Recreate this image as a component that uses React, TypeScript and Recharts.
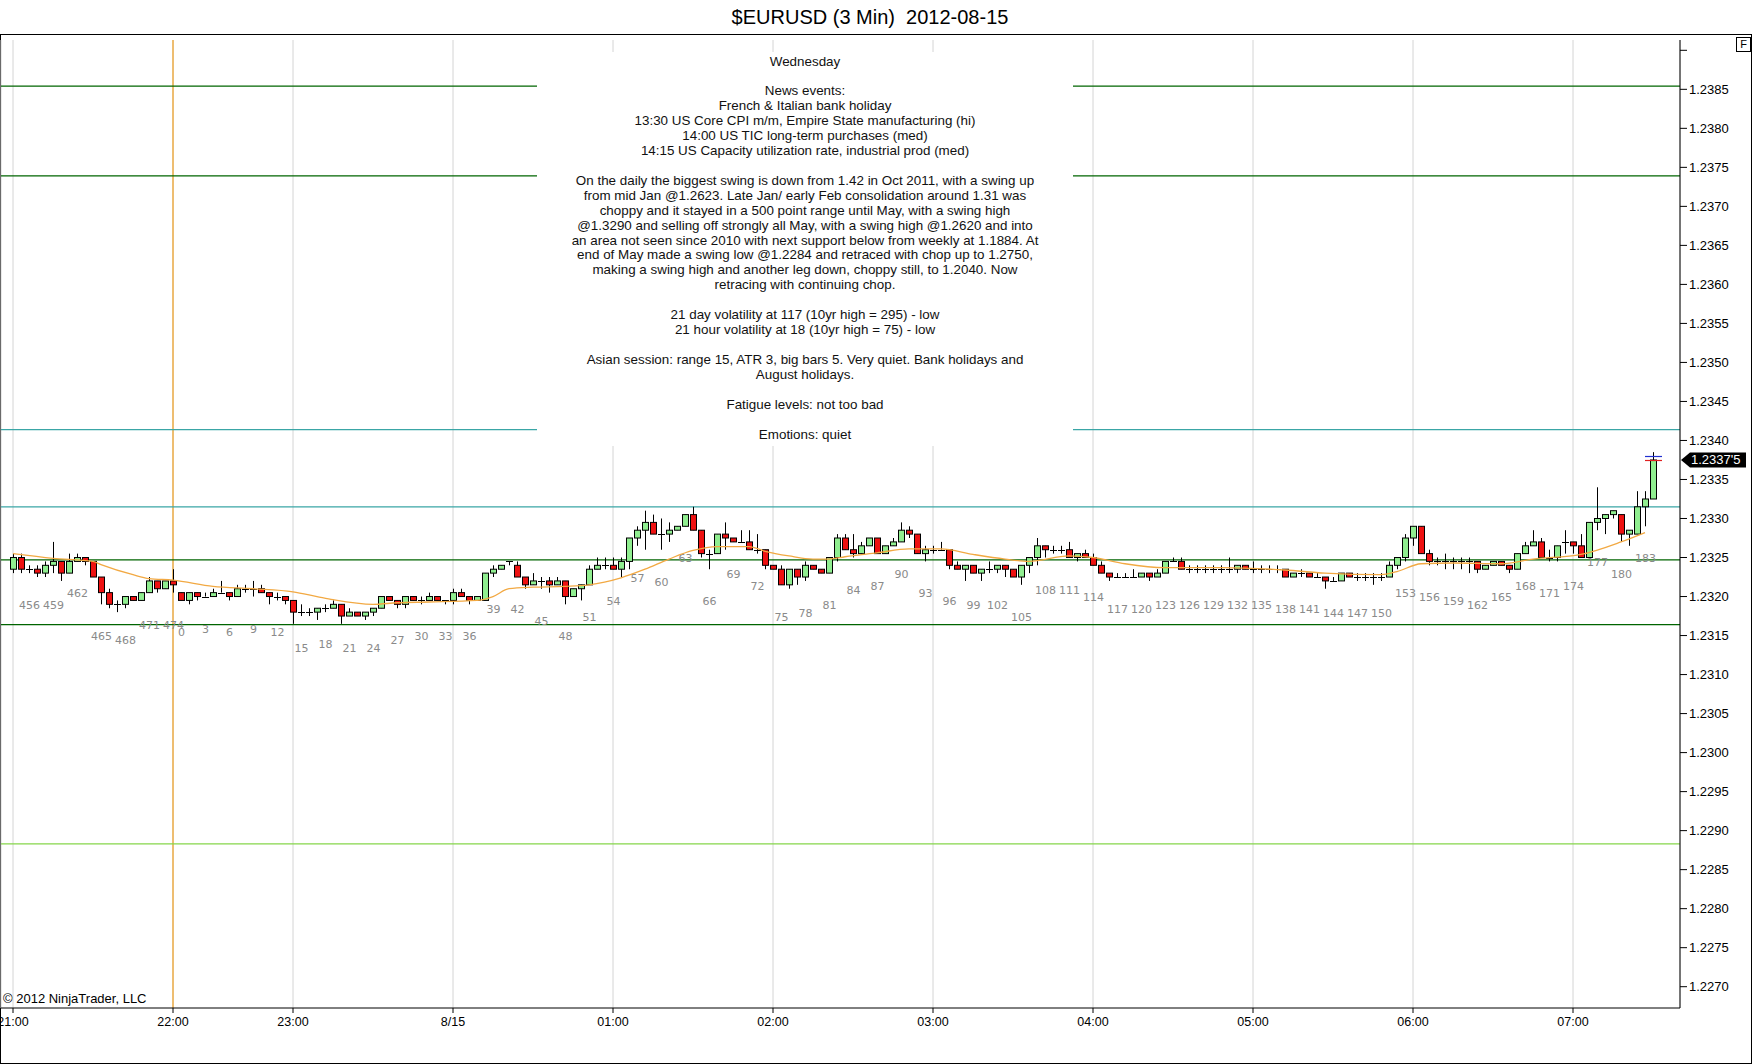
import { ComposedChart, Bar, Line, XAxis, YAxis, CartesianGrid, ReferenceLine, ReferenceArea, ReferenceDot } from 'recharts';

// candle values are pips above 1.2300, one entry per 3-minute bar
const BASE = 1.23;

const openPips = [
  23.5, 25, 23.5, 23.5, 23, 24, 24.5, 23, 24.5, 25,
  24.5, 22.5, 20.5, 19, 19, 20, 19.5, 20.5, 22, 21,
  22, 20.5, 19.5, 20.5, 20, 20, 20.5, 20.5, 20, 21,
  21, 21, 20.5, 20, 20, 19.5, 18, 18, 18, 18.5,
  18.5, 19, 17.5, 18, 17.5, 18, 18.5, 20, 19.5, 19,
  20, 19.5, 19.5, 20, 19.5, 19.5, 20.5, 20, 19.5, 19.5,
  23, 23.5, 24.5, 24, 22.5, 21.5, 22, 22, 21.5, 22,
  20, 21, 21.5, 23.5, 24, 24, 23.5, 24.5, 27.5, 28.5,
  29.5, 28, 28, 28.5, 29, 30.5, 28.5, 25.5, 25.5, 28,
  27.5, 27, 27, 26, 26, 24, 23.5, 21.5, 23.5, 22.5,
  24, 23.5, 23, 25, 27.5, 26, 25.5, 26.5, 27.5, 25.5,
  26.5, 27, 28.5, 28, 25.5, 26, 26, 26, 24, 23.5,
  24, 23, 23.5, 23.5, 24, 23.5, 22.5, 24, 25, 26.5,
  26, 26, 26, 25, 25.5, 25, 24, 23, 22.5, 22.5,
  22.5, 22.5, 23, 22.5, 23, 24.5, 24.5, 23.5, 23.5, 23.5,
  23.5, 23.5, 23.5, 23.5, 24, 23.5, 23.5, 23.5, 23.5, 23.5,
  22.5, 23, 23, 22.5, 22.5, 22, 22, 23, 22.5, 22.5,
  22.5, 22.5, 22.5, 24, 25, 27.5, 29, 25.5, 24.5, 24.5,
  24.5, 24.5, 24.5, 24.5, 23.5, 24, 24.5, 24, 23.5, 25.5,
  26.5, 27, 25, 25, 27, 27, 26.5, 25, 29.5, 30,
  30.5, 30.5, 28, 28, 31.5, 32.5,
];
const highPips = [
  25.5, 25.5, 24, 24, 24.5, 27, 24.5, 25.5, 25.5, 25,
  24.5, 22.5, 21, 19.5, 20, 20, 20.5, 22.5, 22, 22,
  23.5, 20.5, 20.5, 20.5, 20.5, 21, 22, 20.5, 21.5, 21.5,
  22, 21.5, 20.5, 20.5, 20, 19.5, 19, 18.5, 18.5, 19,
  19.5, 19, 18.5, 18, 18, 18.5, 20, 20, 19.5, 20,
  20, 20, 20.5, 20, 19.5, 21, 21, 20, 20, 23,
  24, 24, 24.5, 24.5, 22.5, 23, 22.5, 22.5, 22.5, 22,
  21, 21.5, 24, 25, 25, 25, 25, 27.5, 29, 31,
  30.5, 30, 29.5, 29, 30.5, 31.5, 28.5, 26, 28, 29.5,
  27.5, 28.5, 28.5, 28, 26, 24, 24, 23.5, 23.5, 24.5,
  24, 23.5, 25, 28, 28, 28, 27, 27.5, 27.5, 26.5,
  27.5, 29.5, 29, 28, 26.5, 26.5, 27, 26, 24.5, 24,
  24, 23.5, 24.5, 24, 24, 23.5, 24, 25, 27.5, 26.5,
  26.5, 26.5, 27, 25.5, 26, 25.5, 24.5, 23, 23, 23,
  23.5, 23, 23, 23.5, 24.5, 25, 25, 24, 24, 24,
  24, 24, 25, 24, 24, 24.5, 24, 24, 24, 23.5,
  23, 23.5, 23, 23, 22.5, 22.5, 23, 23, 23, 23,
  23, 23, 24.5, 25, 28, 29, 29, 26, 25, 25.5,
  25, 25, 25, 24.5, 24, 24.5, 24.5, 24, 25.5, 27,
  28.5, 27.5, 26, 26.5, 28.5, 27, 28, 29.5, 34, 30.5,
  31, 30.5, 28.5, 33.5, 33.5, 38.5,
];
const lowPips = [
  23, 23, 23, 22.5, 22.5, 23, 22, 23, 24.5, 24,
  22.5, 19, 18.5, 18, 18.5, 19.5, 19.5, 20.5, 20.5, 21,
  20.5, 19.5, 19, 19.5, 20, 20, 20.5, 19.5, 20, 20.5,
  20, 20.5, 19, 19.5, 19, 16.5, 17.5, 17.5, 17, 18,
  18.5, 16.5, 17.5, 17.5, 17, 17.5, 18.5, 19.5, 18.5, 18.5,
  19.5, 19, 19.5, 19.5, 19, 19, 20, 19, 19.5, 19.5,
  22.5, 23.5, 24, 22.5, 21, 21.5, 21, 20.5, 21.5, 19,
  20, 19.5, 21.5, 23.5, 23.5, 23.5, 22.5, 23.5, 26.5, 26,
  28, 26, 27, 28.5, 29, 28.5, 25, 23.5, 25.5, 26,
  27, 27, 26, 25.5, 23.5, 23.5, 21.5, 21, 21.5, 22,
  23.5, 23, 23, 24.5, 26, 25, 25.5, 26.5, 25.5, 25.5,
  26.5, 27, 27.5, 25.5, 24.5, 25.5, 26, 23.5, 23.5, 22,
  23, 22, 23, 23, 22.5, 22.5, 21.5, 23, 24, 25,
  25.5, 25.5, 25, 24.5, 25, 24, 23, 22, 22.5, 22.5,
  22.5, 22.5, 22, 22.5, 23, 24.5, 23.5, 23, 23, 23,
  23, 23, 23, 23, 23.5, 23, 23, 23, 23, 22.5,
  22.5, 22.5, 22.5, 22.5, 21, 22, 22, 22.5, 22, 22,
  21.5, 22, 22.5, 23.5, 24.5, 26.5, 25.5, 24, 24, 23.5,
  23.5, 23.5, 23, 23, 23.5, 24, 24, 23, 23.5, 25.5,
  26.5, 25, 24.5, 24.5, 25.5, 25.5, 25, 25, 28.5, 28,
  30, 27, 26.5, 28, 29, 32.5,
];
const closePips = [
  25, 23.5, 23.5, 23, 24, 24.5, 23, 24.5, 25, 24.5,
  22.5, 20.5, 19, 19, 20, 19.5, 20.5, 22, 21, 22,
  21.5, 19.5, 20.5, 20, 20, 20.5, 20.5, 20, 21, 21,
  21, 20.5, 20, 20, 19.5, 18, 18, 18, 18.5, 18.5,
  19, 17.5, 18, 17.5, 18, 18.5, 20, 19.5, 19, 20,
  19.5, 19.5, 20, 19.5, 19.5, 20.5, 20, 19.5, 20, 23,
  23.5, 24, 24.5, 22.5, 21.5, 22, 22, 21.5, 22, 20,
  21, 21.5, 23.5, 24, 24, 23.5, 24.5, 27.5, 28.5, 29.5,
  28, 28, 28.5, 29, 30.5, 28.5, 25.5, 25.5, 28, 27.5,
  27, 27, 26, 26, 24, 23.5, 21.5, 23.5, 22.5, 24,
  23.5, 23, 25, 27.5, 26, 25.5, 26.5, 27.5, 25.5, 26.5,
  27, 28.5, 28, 25.5, 26, 26, 26, 24, 23.5, 24,
  23, 23.5, 23.5, 24, 23.5, 22.5, 24, 25, 26.5, 26,
  26, 26, 25, 25.5, 25, 24, 23, 22.5, 22.5, 22.5,
  22.5, 23, 22.5, 23, 24.5, 24.5, 23.5, 23.5, 23.5, 23.5,
  23.5, 23.5, 23.5, 24, 23.5, 23.5, 23.5, 23.5, 23.5, 22.5,
  23, 23, 22.5, 22.5, 22, 22, 23, 22.5, 22.5, 22.5,
  22.5, 22.5, 24, 25, 27.5, 29, 25.5, 24.5, 24.5, 24.5,
  24.5, 24.5, 24.5, 23.5, 24, 24.5, 24, 23.5, 25.5, 26.5,
  27, 25, 25, 26.5, 27, 26.5, 25, 29.5, 30, 30.5,
  31, 28, 28.5, 31.5, 32.5, 37.5,
];

// moving average read at a few bars, in pips
const maBars = [0, 5, 10, 11, 15, 17, 20, 25, 30, 35, 38, 40, 45, 48, 52, 58, 60, 62, 65, 69, 72, 76, 79, 82, 85, 88, 92, 94, 97, 100, 102, 104, 108, 112, 116, 120, 124, 127, 132, 135, 139, 144, 151, 159, 164, 171, 173, 176, 180, 186, 190, 196, 201, 204];
const maPips = [25.5, 24.9, 24.5, 24.1, 22.8, 22.3, 22.1, 21.3, 21.0, 20.6, 20.0, 19.6, 19.0, 19.2, 19.3, 19.5, 20.0, 21.0, 21.2, 21.3, 21.5, 22.4, 23.5, 24.8, 25.9, 26.4, 26.4, 25.8, 25.2, 24.8, 24.8, 25.1, 25.6, 26.1, 26.1, 25.4, 24.8, 24.5, 25.2, 25.0, 24.2, 23.7, 23.7, 23.4, 23.0, 22.8, 23.2, 24.2, 24.3, 24.2, 24.8, 25.4, 27.0, 28.2];

// previous session ends at bar 474, today's session starts at 0
const PREV_FIRST = 454;
const PREV_COUNT = 21;

const hourTicks = [0, 20, 35, 55, 75, 95, 115, 135, 155, 175, 195];
const hourLabels = ['21:00', '22:00', '23:00', '8/15', '01:00', '02:00', '03:00', '04:00', '05:00', '06:00', '07:00'];

const priceTicks = [
  1.227, 1.2275, 1.228, 1.2285, 1.229, 1.2295, 1.23, 1.2305, 1.231, 1.2315, 1.232, 1.2325,
  1.233, 1.2335, 1.234, 1.2345, 1.235, 1.2355, 1.236, 1.2365, 1.237, 1.2375, 1.238, 1.2385, 1.239,
];

const levelPrices = [1.23854, 1.23739, 1.23414, 1.23315, 1.23247, 1.23164, 1.22883];
const levelColors = ['#006400', '#006400', '#3aa6a6', '#3aa6a6', '#006400', '#006400', '#86d64a'];

const lastPrice = 1.23375;
const askPrice = 1.2338;

const notes = [
  'Wednesday',
  '',
  'News events:',
  'French & Italian bank holiday',
  '13:30 US Core CPI m/m, Empire State manufacturing (hi)',
  '14:00 US TIC long-term purchases (med)',
  '14:15 US Capacity utilization rate, industrial prod (med)',
  '',
  'On the daily the biggest swing is down from 1.42 in Oct 2011, with a swing up',
  'from mid Jan @1.2623. Late Jan/ early Feb consolidation around 1.31 was',
  'choppy and it stayed in a 500 point range until May, with a swing high',
  '@1.3290 and selling off strongly all May, with a swing high @1.2620 and into',
  'an area not seen since 2010 with next support below from weekly at 1.1884. At',
  'end of May made a swing low @1.2284 and retraced with chop up to 1.2750,',
  'making a swing high and another leg down, choppy still, to 1.2040. Now',
  'retracing with continuing chop.',
  '',
  '21 day volatility at 117 (10yr high = 295) - low',
  '21 hour volatility at 18 (10yr high = 75) - low',
  '',
  'Asian session: range 15, ATR 3, big bars 5. Very quiet. Bank holidays and',
  'August holidays.',
  '',
  'Fatigue levels: not too bad',
  '',
  'Emotions: quiet',
];

const px = (p: number) => +(BASE + p / 10000).toFixed(5);

const data = openPips.map((o, i) => {
  const k = maBars.indexOf(i);
  return {
    i,
    num: i < PREV_COUNT ? PREV_FIRST + i : i - PREV_COUNT,
    open: px(o),
    high: px(highPips[i]),
    low: px(lowPips[i]),
    close: px(closePips[i]),
    ma: k >= 0 ? px(maPips[k]) : null,
  };
});

const FONT = '"Liberation Sans", Arial, sans-serif';

function Candle(props: any) {
  const { x, y, width, height, payload } = props;
  if (!payload) return null;
  const cx = Math.floor(x + width / 2) + 0.5;
  const top = Math.min(y, y + height);
  const h = Math.abs(height);
  const { open, high, low, close, num } = payload;
  const range = high - low;
  const py = (v: number) => (range > 0 ? top + ((high - v) / range) * h : top);
  const yo = py(open);
  const yc = py(close);
  const up = close > open;
  const flat = close === open;
  return (
    <g>
      <line x1={cx} x2={cx} y1={top} y2={top + h} stroke="#000" />
      {flat ? (
        <line x1={cx - 3.5} x2={cx + 3.5} y1={Math.round(yo) + 0.5} y2={Math.round(yo) + 0.5} stroke="#000" />
      ) : (
        <rect
          x={cx - 3}
          y={Math.min(yo, yc)}
          width={6}
          height={Math.abs(yc - yo)}
          fill={up ? '#90ee90' : '#ee1111'}
          stroke="#000"
        />
      )}
      {num % 3 === 0 && (
        <text x={cx} y={top + h + 36} textAnchor="middle" fontSize={11} fill="#8a8a8a" fontFamily="'DejaVu Sans', sans-serif">
          {num}
        </text>
      )}
    </g>
  );
}

function NotesBox(props: any) {
  const vb = props.viewBox;
  if (!vb) return null;
  const cx = vb.x + vb.width / 2;
  return (
    <g>
      {notes.map((line, k) =>
        line ? (
          <text key={k} x={cx} y={vb.y + 13.5 + k * 14.92} textAnchor="middle" fontSize={13.4} fill="#111" fontFamily={FONT}>
            {line}
          </text>
        ) : null,
      )}
    </g>
  );
}

function PriceTag(props: any) {
  const vb = props.viewBox;
  if (!vb) return null;
  const x0 = vb.x + vb.width + 1;
  const yy = vb.y;
  return (
    <g>
      <polygon
        points={`${x0},${yy} ${x0 + 9},${yy - 7.5} ${x0 + 65},${yy - 7.5} ${x0 + 65},${yy + 7.5} ${x0 + 9},${yy + 7.5}`}
        fill="#000"
      />
      <text x={x0 + 10} y={yy + 4.5} fontSize={13} fill="#fff" fontFamily={FONT}>
        1.2337'5
      </text>
    </g>
  );
}

const tick = (color: string) => (p: any) => (
  <line x1={p.cx - 8} x2={p.cx + 9} y1={Math.round(p.cy) + 0.5} y2={Math.round(p.cy) + 0.5} stroke={color} strokeWidth={1.2} />
);

export default function App() {
  return (
    <div
      style={{
        position: 'absolute',
        left: 0,
        top: 0,
        width: 1752,
        height: 1064,
        background: '#fff',
        fontFamily: FONT,
        overflow: 'hidden',
      }}
    >
      <div
        style={{
          position: 'absolute',
          left: 0,
          top: 5,
          width: 1740,
          textAlign: 'center',
          fontSize: 20,
          lineHeight: '24px',
          whiteSpace: 'pre',
          color: '#000',
        }}
      >
        {'$EURUSD (3 Min)  2012-08-15'}
      </div>
      <div
        style={{
          position: 'absolute',
          left: 0,
          top: 34,
          width: 1752,
          height: 1030,
          border: '1px solid #000',
          boxSizing: 'border-box',
        }}
      />
      <div style={{ position: 'absolute', left: 0, top: 0 }}>
        <ComposedChart
          width={1752}
          height={1064}
          data={data}
          margin={{ top: 40, right: 0, bottom: 0, left: 1 }}
          barCategoryGap={0}
        >
          <CartesianGrid horizontal={false} stroke="#d4d4d4" />
          <XAxis
            dataKey="i"
            type="category"
            ticks={hourTicks}
            interval={0}
            padding={{ left: 8, right: 23 }}
            height={56}
            tickSize={5}
            tickMargin={4}
            tickFormatter={(v) => hourLabels[hourTicks.indexOf(Number(v))]}
            tick={{ fill: '#000', fontSize: 12.5 }}
            axisLine={{ stroke: '#000' }}
            tickLine={{ stroke: '#000' }}
          />
          <YAxis
            orientation="right"
            type="number"
            domain={[1.226727, 1.239132]}
            allowDataOverflow
            ticks={priceTicks}
            interval={0}
            width={72}
            tickSize={7}
            tickMargin={2}
            tickFormatter={(v) => (v > 1.2388 ? '' : Number(v).toFixed(4))}
            tick={{ fill: '#000', fontSize: 13, textAnchor: 'start' }}
            axisLine={{ stroke: '#000' }}
            tickLine={{ stroke: '#000' }}
          />
          <ReferenceLine x={20} stroke="#f0a020" strokeWidth={1.2} zIndex={50} />
          {levelPrices.map((p, k) => (
            <ReferenceLine key={p} y={p} stroke={levelColors[k]} strokeWidth={1.2} zIndex={50} />
          ))}
          <ReferenceArea
            x1={66}
            x2={132}
            y1={1.233929}
            y2={1.238978}
            fill="#fff"
            fillOpacity={1}
            stroke="none"
            ifOverflow="visible"
            zIndex={100}
            label={NotesBox}
          />
          <Bar dataKey={(d: any) => [d.low, d.high]} shape={Candle} isAnimationActive={false} />
          <Line
            dataKey="ma"
            type="monotone"
            stroke="#f2a943"
            strokeWidth={1.3}
            dot={false}
            connectNulls
            isAnimationActive={false}
          />
          <ReferenceDot x={205} y={askPrice} r={0} shape={tick('#2030d0')} />
          <ReferenceDot x={205} y={lastPrice} r={0} shape={tick('#e02020')} />
          <ReferenceLine y={lastPrice} stroke="none" label={PriceTag} />
        </ComposedChart>
      </div>
      <div style={{ position: 'absolute', left: 3, top: 991, fontSize: 13, lineHeight: '16px', color: '#000' }}>
        © 2012 NinjaTrader, LLC
      </div>
      <div
        style={{
          position: 'absolute',
          left: 1736,
          top: 37,
          width: 15,
          height: 15,
          border: '1px solid #000',
          boxSizing: 'border-box',
          fontSize: 11,
          lineHeight: '13px',
          textAlign: 'center',
          background: '#fff',
        }}
      >
        F
      </div>
    </div>
  );
}
